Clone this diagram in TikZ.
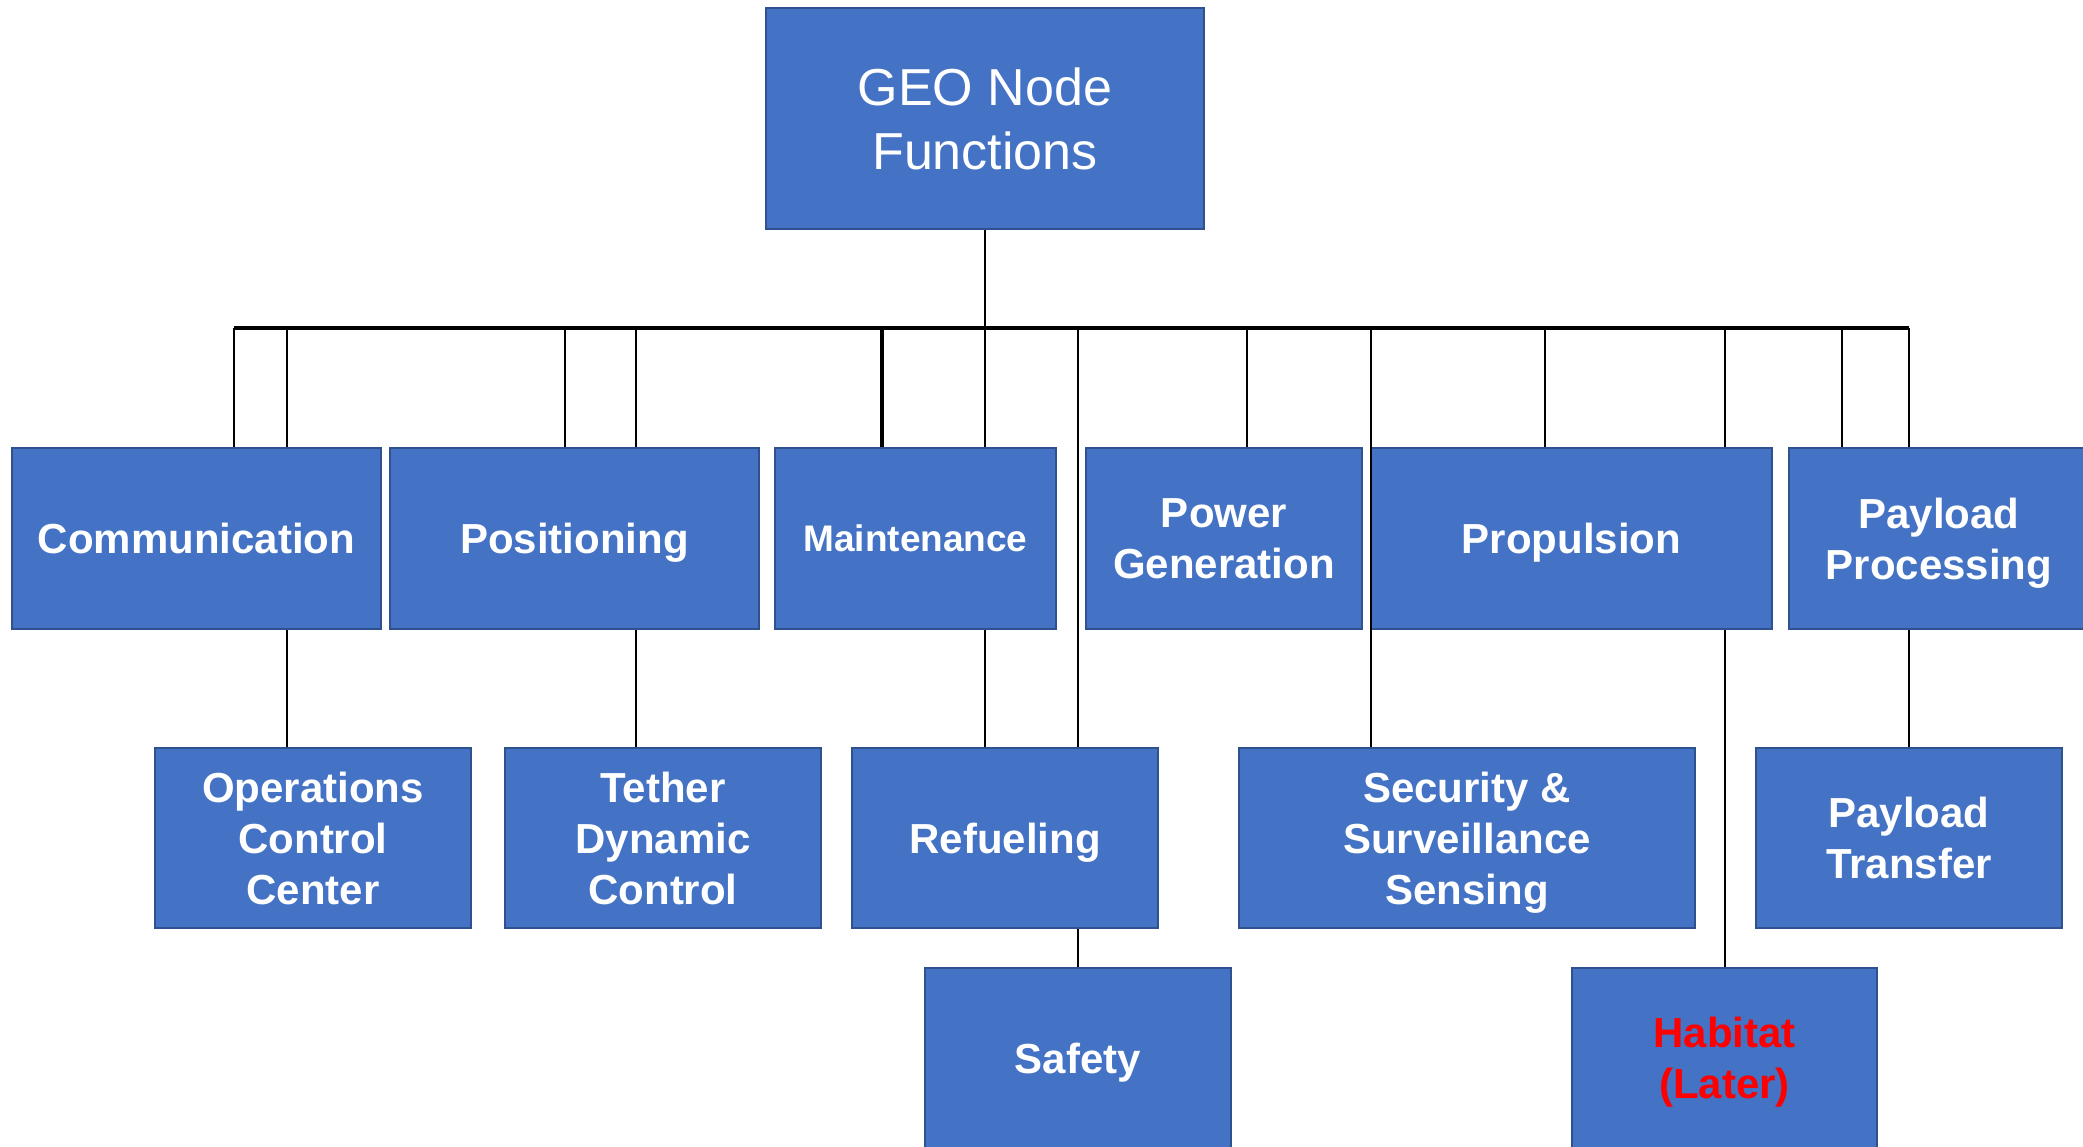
\documentclass[tikz,border=0pt]{standalone}
\usepackage{fontspec}
\setmainfont{Liberation Sans}
\usetikzlibrary{positioning}
\definecolor{boxblue}{HTML}{4472C4}
\definecolor{boxedge}{HTML}{2F528F}

\begin{document}
\begin{tikzpicture}[
        x=1pt, y=-1pt,
        func/.style={rectangle, draw=boxedge, fill=boxblue, line width=2.5pt, text=white, align=center, inner sep=0pt, text depth=-9pt, minimum height=181pt, font=\bfseries\fontsize{42}{51}\selectfont},
        link/.style={line width=2.5pt},
        bus/.style={line width=4.5pt}
    ]
        \useasboundingbox (0,0) rectangle (2083,1147);
        \clip (0,0) rectangle (2083,1147);

        \node[func, minimum width=438pt, minimum height=221pt, text depth=-4pt, font=\fontsize{52}{64}\selectfont] (geo) at (985,118.5) {GEO Node\\Functions};

        \node[func, minimum width=369pt] (comm) at (196.5,538.5) {Communication};
        \node[func, minimum width=369pt] (pos) at (574.5,538.5) {Positioning};
        \node[func, minimum width=281pt, font=\bfseries\fontsize{37}{45}\selectfont] (maint) at (915.5,538.5) {Maintenance};
        \node[func, minimum width=276pt] (power) at (1224,538.5) {Power\\Generation};
        \node[func, minimum width=401pt] (prop) at (1571.5,538.5) {Propulsion};
        \node[func, minimum width=300pt] (payproc) at (1939,538.5) {Payload\\Processing};

        \node[func, minimum width=316pt, minimum height=180pt] (ops) at (313,838) {Operations\\Control\\Center};
        \node[func, minimum width=316pt, minimum height=180pt] (tether) at (663,838) {Tether\\Dynamic\\Control};
        \node[func, minimum width=306pt, minimum height=180pt] (refuel) at (1005,838) {Refueling};
        \node[func, minimum width=456pt, minimum height=180pt] (secur) at (1467,838) {Security \&\\Surveillance\\Sensing};
        \node[func, minimum width=306pt, minimum height=180pt] (paytrans) at (1909,838) {Payload\\Transfer};

        \node[func, minimum width=306pt, minimum height=180pt] (safety) at (1078,1058) {Safety};
        \node[func, minimum width=305pt, minimum height=180pt, text=red] (habitat) at (1724.5,1058) {Habitat\\(Later)};

        \foreach \n/\tx in {1/234, 2/287, 3/565, 4/636, 5/882, 6/985, 7/1078, 8/1247, 9/1371, 10/1545, 11/1725, 12/1842, 13/1909}
            \coordinate (t\n) at (\tx,328);

        \draw[link] (geo.south) -- (t6);
        \draw[bus] (t1) -- (t13);
        \foreach \n/\tgt in {1/comm, 2/comm, 3/pos, 4/pos, 6/maint, 7/refuel, 8/power, 9/secur, 10/prop, 11/prop, 12/payproc, 13/payproc}
            \draw[link] (t\n) -- (t\n |- \tgt.north);
        \draw[bus] (t5) -- (t5 |- maint.north);

        \draw[link] (comm.south -| t2) -- (t2 |- ops.north);
        \draw[link] (pos.south -| t4) -- (t4 |- tether.north);
        \draw[link] (maint.south -| t6) -- (t6 |- refuel.north);
        \draw[link] (prop.south -| t11) -- (t11 |- habitat.north);
        \draw[link] (payproc.south -| t13) -- (t13 |- paytrans.north);
        \draw[link] (refuel.south -| safety) -- (safety.north);
    \end{tikzpicture}
\end{document}
